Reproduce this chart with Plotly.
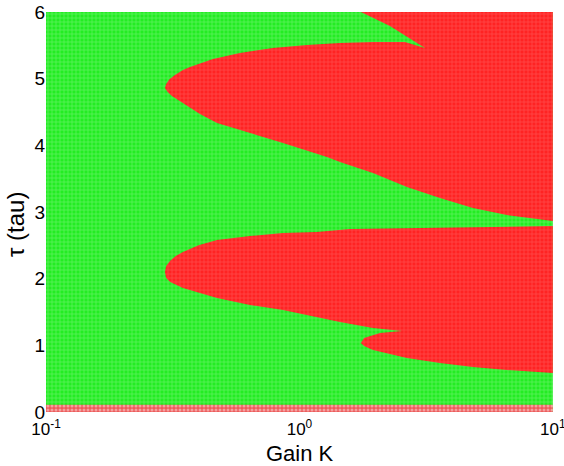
import plotly.graph_objects as go

# Boundary of the upper unstable (red) region: gain K and delay tau
upper_K = [1.748, 10, 10, 6.584, 4.836, 3.584, 2.655, 1.950, 1.445, 1.284, 0.861, 0.638,
           0.473, 0.405, 0.347, 0.314, 0.302, 0.2946, 0.298, 0.307, 0.3228, 0.347, 0.370,
           0.456, 0.5825, 0.786, 1.071, 1.445, 1.950, 2.608, 3.127, 2.275, 1.748]
upper_tau = [6.0, 6.0, 2.865, 2.955, 3.06, 3.21, 3.375, 3.585, 3.75, 3.825, 4.035, 4.185,
             4.335, 4.47, 4.635, 4.74, 4.80, 4.86, 4.92, 4.99, 5.055, 5.13, 5.175,
             5.295, 5.385, 5.46, 5.505, 5.535, 5.55, 5.55, 5.46, 5.79, 6.0]

# Boundary of the lower unstable (red) region (two merged lobes)
lower_K = [0.2946, 0.298, 0.309, 0.325, 0.347, 0.400, 0.473, 0.638, 0.861, 1.172, 1.582,
           3.584, 10, 10, 6.584, 4.836, 3.584, 2.655, 1.950, 1.800, 1.748, 1.800, 2.078,
           2.537, 1.950, 1.445, 1.172, 0.861, 0.638, 0.473, 0.347, 0.325, 0.309, 0.298,
           0.2946]
lower_tau = [2.10, 2.19, 2.27, 2.34, 2.40, 2.50, 2.58, 2.64, 2.685, 2.70, 2.745,
             2.76, 2.79, 0.585, 0.63, 0.675, 0.735, 0.81, 0.93, 0.99, 1.035, 1.11, 1.185,
             1.215, 1.26, 1.35, 1.425, 1.53, 1.605, 1.71, 1.86, 1.91, 1.95, 2.01,
             2.10]

# Noisy band near tau = 0
band_K = [0.1, 10, 10, 0.1, 0.1]
band_tau = [0.0, 0.0, 0.11, 0.11, 0.0]

# Full plane (stable, green)
plane_K = [0.1, 10, 10, 0.1, 0.1]
plane_tau = [0.0, 0.0, 6.0, 6.0, 0.0]

x_tickvals = [0.1, 1, 10]
x_ticktext = ["10<sup>-1</sup>", "10<sup>0</sup>", "10<sup>1</sup>"]
y_tickvals = [0, 1, 2, 3, 4, 5, 6]
x_title = "Gain K"
y_title = "τ (tau)"

green = "rgb(35,236,35)"
red = "rgb(255,35,35)"

fig = go.Figure()
fig.add_trace(go.Scatter(
    x=plane_K, y=plane_tau, mode="lines", fill="toself", line=dict(width=0),
    fillcolor=green,
    fillpattern=dict(shape="+", fgcolor="rgba(255,255,255,0.6)", bgcolor=green,
                     size=4, solidity=0.3, fillmode="overlay"),
    hoverinfo="skip", showlegend=False))
fig.add_trace(go.Scatter(
    x=upper_K, y=upper_tau, mode="lines", fill="toself", line=dict(width=0),
    fillcolor=red,
    fillpattern=dict(shape="+", fgcolor="rgba(255,180,180,0.6)", bgcolor=red,
                     size=4, solidity=0.3, fillmode="overlay"),
    hoverinfo="skip", showlegend=False))
fig.add_trace(go.Scatter(
    x=lower_K, y=lower_tau, mode="lines", fill="toself", line=dict(width=0),
    fillcolor=red,
    fillpattern=dict(shape="+", fgcolor="rgba(255,180,180,0.6)", bgcolor=red,
                     size=4, solidity=0.3, fillmode="overlay"),
    hoverinfo="skip", showlegend=False))
fig.add_trace(go.Scatter(
    x=band_K, y=band_tau, mode="lines", fill="toself", line=dict(width=0),
    fillcolor="rgb(240,120,120)",
    fillpattern=dict(shape=".", fgcolor="rgba(255,255,255,0.85)", bgcolor="rgb(236,90,90)",
                     size=4, solidity=0.45, fillmode="overlay"),
    hoverinfo="skip", showlegend=False))

font_family = "Liberation Sans, Arial, sans-serif"
fig.update_layout(
    width=564, height=466,
    margin=dict(l=46, r=11, t=12, b=54),
    paper_bgcolor="white", plot_bgcolor="white",
    font=dict(family=font_family, size=18, color="black"),
    xaxis=dict(type="log", range=[-1, 1.0005], tickvals=x_tickvals, ticktext=x_ticktext,
               showgrid=False, zeroline=False, showline=False, automargin=False,
               ticklabeloverflow="allow", ticks="outside", ticklen=2,
               tickcolor="rgba(0,0,0,0)", tickfont=dict(size=17)),
    yaxis=dict(range=[0, 6], tickvals=y_tickvals, showgrid=False, zeroline=False,
               showline=False, ticks="", tickfont=dict(size=19), automargin=False,
               ticklabeloverflow="allow"),
    annotations=[
        dict(text=x_title, xref="paper", yref="paper", x=0.5, y=-0.103,
             xanchor="center", yanchor="middle", showarrow=False,
             font=dict(size=22)),
        dict(text=y_title, xref="paper", yref="paper", x=-0.061, y=0.47,
             xanchor="center", yanchor="middle", showarrow=False, textangle=-90,
             font=dict(size=24)),
    ],
)

fig.write_html("out.html")
